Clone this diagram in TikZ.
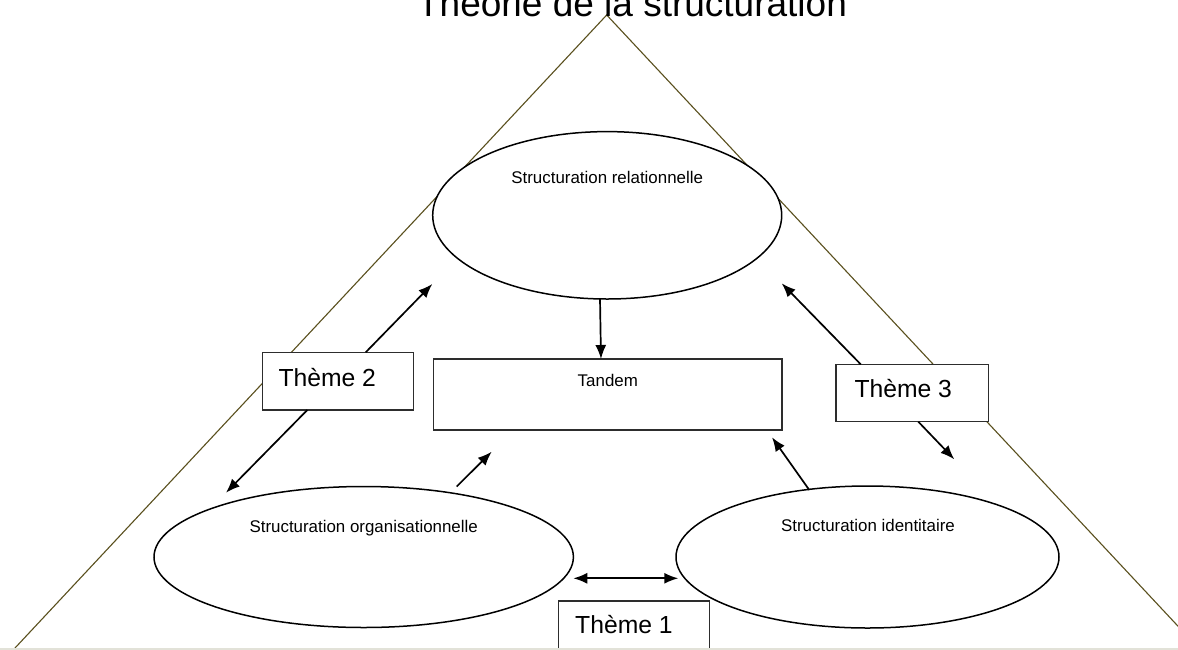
\documentclass[tikz,border=0pt]{standalone}
\usepackage{fontspec}
\setmainfont{Liberation Sans}
\usetikzlibrary{arrows.meta,shapes.geometric}
\definecolor{triline}{RGB}{90,80,30}
\definecolor{stripgray}{RGB}{226,226,216}
\definecolor{boxline}{RGB}{45,45,45}
\begin{document}
\begin{tikzpicture}[x=1pt,y=-1pt,
  tri/.style={draw=triline,line width=1.1pt},
  oval/.style={ellipse,draw=black,fill=white,line width=1.5pt,inner sep=0pt,outer sep=0pt},
  box/.style={rectangle,draw=boxline,fill=white,line width=1.3pt,inner sep=0pt,outer sep=0pt},
  lab/.style={font=\fontsize{16.9}{20}\selectfont,anchor=base,inner sep=0pt},
  themetxt/.style={font=\fontsize{24.7}{28}\selectfont,anchor=base west,inner sep=0pt},
  titletxt/.style={font=\fontsize{37}{42}\selectfont,anchor=base,inner sep=0pt},
  arr/.style={-{Latex[length=14pt,width=11pt]},line width=1.7pt},
  darr/.style={{Latex[length=14pt,width=11pt]}-{Latex[length=14pt,width=11pt]},line width=1.7pt}]
\clip (0,0) rectangle (1178,649);
\fill[white] (0,0) rectangle (1178,649);

% triangle
\coordinate (apex) at (606.7,15);
\coordinate (bl) at (15,648);
\coordinate (br) at (1198.4,648);
\draw[tri] (bl) -- (apex) -- (br);

% title
\node[titletxt] (title) at (632,16) {Théorie de la structuration};

% ellipses
\node[oval,minimum width=349pt,minimum height=167.4pt] (rel) at (607.2,215.3) {};
\node[lab] (reltxt) at (607.2,183.4) {Structuration relationnelle};
\node[oval,minimum width=419.4pt,minimum height=141pt] (org) at (363.7,557) {};
\node[lab] (orgtxt) at (363.7,532) {Structuration organisationnelle};
\node[oval,minimum width=383pt,minimum height=142pt] (ide) at (867.5,557) {};
\node[lab] (idetxt) at (868,531.7) {Structuration identitaire};

% boxes
\node[box,minimum width=348.7pt,minimum height=71pt] (tandem) at (607.6,394.5) {};
\node[lab] (tandemtxt) at (607.8,386) {Tandem};
\node[box,minimum width=151pt,minimum height=57.7pt] (t2) at (337.8,381.2) {};
\node[themetxt] (t2txt) at (278.3,386.7) {Thème 2};
\node[box,minimum width=152.3pt,minimum height=57.4pt] (t3) at (912.2,393) {};
\node[themetxt] (t3txt) at (854.3,397.7) {Thème 3};
\node[box,minimum width=151pt,minimum height=59pt] (t1) at (633.8,630.5) {};
\node[themetxt] (t1txt) at (575,633.3) {Thème 1};

% connector end points
\coordinate (a1s) at (600,298.5);
\coordinate (a1e) at (601,359);
\coordinate (t2up) at (365.7,352.3);
\coordinate (t2upe) at (432.3,284);
\coordinate (t2dn) at (307.3,410);
\coordinate (t2dne) at (226,492.7);
\coordinate (t3up) at (860.7,364.3);
\coordinate (t3upe) at (781.7,283.3);
\coordinate (t3dn) at (918.3,421.7);
\coordinate (t3dne) at (954.3,459.3);
\coordinate (orgs) at (456.7,486.5);
\coordinate (orge) at (491.7,451.7);
\coordinate (ides) at (809.3,490);
\coordinate (idee) at (772,437.3);
\coordinate (t1a) at (573.3,578.3);
\coordinate (t1b) at (678.3,578.3);

% connectors
\draw[arr] (a1s) -- (a1e);
\draw[arr] (t2up) -- (t2upe);
\draw[arr] (t2dn) -- (t2dne);
\draw[arr] (t3up) -- (t3upe);
\draw[arr] (t3dn) -- (t3dne);
\draw[arr] (orgs) -- (orge);
\draw[arr] (ides) -- (idee);
\draw[darr] (t1a) -- (t1b);

% bottom strip
\fill[stripgray] (0,647.6) rectangle (1178,650);
\end{tikzpicture}
\end{document}
